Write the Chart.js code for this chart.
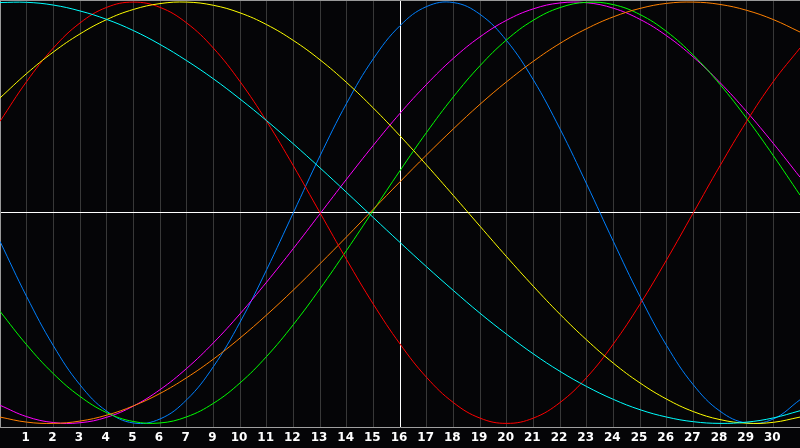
<!DOCTYPE html>
<html>
<head>
<meta charset="utf-8">
<script src="https://cdn.jsdelivr.net/npm/chart.js@4/dist/chart.umd.min.js"></script>
<style>
  html, body { margin: 0; padding: 0; background: #050507; }
  canvas { display: block; }
</style>
</head>
<body>
<canvas id="chart" width="800" height="448"></canvas>
<script>
// day slots 0..30 on the x axis, labels as shown under the grid (no "8")
const slots = [0,1,2,3,4,5,6,7,8,9,10,11,12,13,14,15,16,17,18,19,20,21,22,23,24,25,26,27,28,29,30];
const dayLabels = ["","1","2","3","4","5","6","7","9","10","11","12","13","14","15","16",
  "17","18","19","20","21","22","23","24","25","26","27","28","29","30",""];
const todaySlot = 15;

const red = [0.434,0.623,0.782,0.901,0.975,1.000,0.975,0.901,0.782,0.623,0.434,0.223,0.000,-0.223,-0.434,-0.623,
  -0.782,-0.901,-0.975,-1.000,-0.975,-0.901,-0.782,-0.623,-0.434,-0.223,0.000,0.223,0.434,0.623,0.782];
const blue = [-0.136,-0.398,-0.631,-0.817,-0.942,-0.998,-0.979,-0.888,-0.731,-0.520,-0.270,0.000,0.270,0.520,0.731,0.888,
  0.979,0.998,0.942,0.817,0.631,0.398,0.136,-0.136,-0.398,-0.631,-0.817,-0.942,-0.998,-0.979,-0.888];
const cyan = [0.998,0.999,0.986,0.958,0.918,0.865,0.799,0.722,0.636,0.540,0.437,0.327,0.213,0.096,-0.023,-0.141,
  -0.257,-0.369,-0.477,-0.577,-0.670,-0.753,-0.825,-0.886,-0.935,-0.970,-0.992,-1.000,-0.994,-0.974,-0.940];
const yellow = [0.545,0.661,0.763,0.849,0.917,0.965,0.993,1.000,0.985,0.949,0.893,0.818,0.726,0.618,0.497,0.365,
  0.226,0.082,-0.064,-0.209,-0.349,-0.482,-0.604,-0.714,-0.808,-0.885,-0.944,-0.982,-0.999,-0.995,-0.970];
const magenta = [-0.914,-0.968,-0.996,-0.997,-0.971,-0.918,-0.840,-0.739,-0.618,-0.480,-0.329,-0.170,-0.005,0.160,0.320,0.472,
  0.610,0.733,0.835,0.914,0.968,0.996,0.997,0.971,0.918,0.840,0.739,0.618,0.480,0.329,0.169];
const green = [-0.468,-0.627,-0.764,-0.872,-0.949,-0.991,-0.998,-0.969,-0.905,-0.808,-0.682,-0.531,-0.361,-0.178,0.011,0.200,
  0.382,0.550,0.698,0.821,0.914,0.974,0.999,0.988,0.941,0.860,0.748,0.609,0.448,0.271,0.084];
const orange = [-0.970,-0.994,-1.000,-0.989,-0.961,-0.917,-0.858,-0.783,-0.695,-0.595,-0.485,-0.367,-0.242,-0.114,0.017,0.147,
  0.275,0.398,0.515,0.622,0.719,0.804,0.874,0.930,0.970,0.994,1.000,0.989,0.961,0.917,0.858];

const series = [
  { values: cyan, color: "#00ffff" },
  { values: yellow, color: "#ffff00" },
  { values: red, color: "#ff0000" },
  { values: orange, color: "#ff8000" },
  { values: green, color: "#00ff00" },
  { values: magenta, color: "#ff00ff" },
  { values: blue, color: "#0080ff" },
];

const framePlugin = {
  id: "frame",
  beforeDraw(chart) {
    const { ctx, width, height } = chart;
    ctx.save();
    ctx.fillStyle = "#050507";
    ctx.fillRect(0, 0, width, height);
    ctx.restore();
  },
  afterDraw(chart) {
    const { ctx, chartArea } = chart;
    ctx.save();
    ctx.strokeStyle = "#999999";
    ctx.lineWidth = 1;
    ctx.beginPath();
    ctx.moveTo(chartArea.left, chartArea.top + 0.5);
    ctx.lineTo(chartArea.right, chartArea.top + 0.5);
    ctx.stroke();
    ctx.restore();
  },
};

new Chart(document.getElementById("chart").getContext("2d"), {
  type: "line",
  data: {
    datasets: series.map((s) => ({
      data: s.values.map((v, i) => ({ x: slots[i], y: v })),
      borderColor: s.color,
      borderWidth: 1,
      pointRadius: 0,
      fill: false,
      tension: 0.4,
    })),
  },
  options: {
    responsive: false,
    animation: false,
    layout: { padding: 0 },
    plugins: { legend: { display: false }, tooltip: { enabled: false } },
    scales: {
      x: {
        type: "linear",
        min: 0,
        max: 30,
        afterFit: (scale) => {
          scale.paddingLeft = 0;
          scale.paddingRight = 0;
        },
        ticks: {
          stepSize: 1,
          autoSkip: false,
          maxRotation: 0,
          padding: 3,
          labelOffset: -1,
          color: "#ffffff",
          font: { family: "DejaVu Sans", size: 12, weight: "bold" },
          callback: (v) => dayLabels[v] ?? "",
        },
        grid: {
          drawTicks: false,
          color: (c) => (c.tick && c.tick.value === todaySlot ? "#ffffff" : "#383838"),
        },
        border: { color: "#a0a0a0" },
      },
      y: {
        type: "linear",
        min: -1.02,
        max: 1.01,
        ticks: { display: false, stepSize: 1 },
        grid: {
          drawTicks: false,
          color: (c) => (c.tick && c.tick.value === 0 ? "#ffffff" : "rgba(0,0,0,0)"),
        },
        border: { color: "#999999" },
      },
    },
  },
  plugins: [framePlugin],
});
</script>
</body>
</html>
